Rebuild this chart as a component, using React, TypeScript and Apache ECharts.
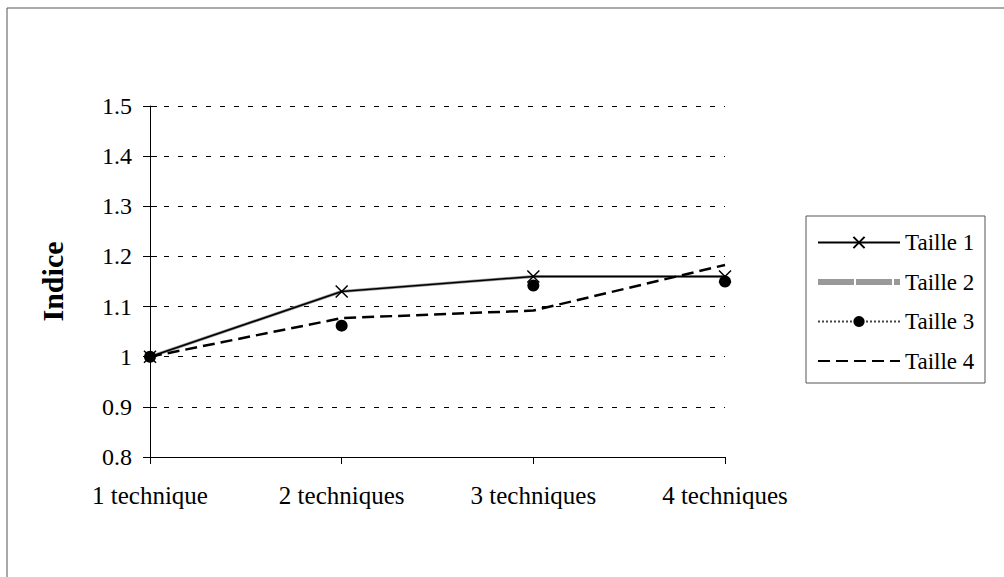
import React, { useEffect, useRef } from "react";
import * as echarts from "echarts";

const categories = ["1 technique", "2 techniques", "3 techniques", "4 techniques"];
const taille1 = [1.0, 1.13, 1.16, 1.16];
const taille2 = [1.0, 1.13, 1.16, 1.16];
const taille3 = [1.0, 1.062, 1.142, 1.15];
const taille4 = [1.0, 1.077, 1.092, 1.183];
const yTicks = { min: 0.8, max: 1.5, interval: 0.1 };

const FONT = "Liberation Serif";
const CROSS = "path://M0,0L10,10M10,0L0,10";

export default function App() {
  const ref = useRef<HTMLDivElement>(null);
  useEffect(() => {
    const chart = echarts.init(ref.current!, null, { renderer: "svg" });
    chart.setOption({
      animation: false,
      backgroundColor: "#fff",
      textStyle: { fontFamily: FONT },
      grid: { left: 150, right: 279, top: 106, bottom: 120, containLabel: false },
      graphic: [
        {
          type: "rect",
          shape: { x: 7, y: 8, width: 1200, height: 800 },
          style: { fill: "none", stroke: "#555", lineWidth: 1 },
          silent: true,
        },
        {
          type: "rect",
          shape: { x: 806, y: 216, width: 179, height: 167 },
          style: { fill: "#fff", stroke: "#555", lineWidth: 1 },
          silent: true,
          z: 0,
        },
      ],
      legend: {
        orient: "vertical",
        left: 815,
        top: 231,
        itemWidth: 82,
        itemHeight: 14,
        itemGap: 16.5,
        padding: 0,
        z: 10,
        textStyle: { fontFamily: FONT, fontSize: 23, color: "#000" },
        data: [
          { name: "Taille 1" },
          { name: "Taille 2", itemStyle: { opacity: 0 }, lineStyle: { width: 6, color: "#999", opacity: 1, type: [36, 2] } },
          { name: "Taille 3", lineStyle: { width: 2, type: "dotted", color: "#444", opacity: 1 } },
          { name: "Taille 4", itemStyle: { opacity: 0 } },
        ],
      },
      xAxis: {
        type: "category",
        data: categories,
        boundaryGap: false,
        axisLine: { lineStyle: { color: "#000", width: 1 } },
        axisTick: { show: true, length: 7, lineStyle: { color: "#000" } },
        axisLabel: { fontFamily: FONT, fontSize: 25, color: "#000", margin: 26 },
        splitLine: { show: false },
      },
      yAxis: [
        {
          type: "value",
          min: yTicks.min,
          max: yTicks.max,
          interval: yTicks.interval,
          name: "Indice",
          nameLocation: "middle",
          nameGap: 83,
          nameTextStyle: { fontFamily: FONT, fontSize: 30, fontWeight: "bold", color: "#000" },
          axisLine: { show: true, lineStyle: { color: "#000", width: 1 } },
          axisTick: { show: true, length: 7, lineStyle: { color: "#000" } },
          axisLabel: { fontFamily: FONT, fontSize: 24, color: "#000", margin: 18, formatter: (v: number) => String(Math.round(v * 10) / 10) },
          splitLine: { show: true, lineStyle: { color: "#000", type: [5, 9], width: 1 } },
        },
        {
          type: "value",
          position: "left",
          min: yTicks.min,
          max: yTicks.max,
          interval: yTicks.interval,
          axisLine: { show: false },
          axisTick: { show: true, inside: true, length: 7, lineStyle: { color: "#000" } },
          axisLabel: { show: false },
          splitLine: { show: false },
        },
      ],
      series: [
        {
          name: "Taille 2",
          type: "line",
          data: taille2,
          symbol: "none",
          lineStyle: { color: "#999", width: 3 },
          itemStyle: { color: "#999" },
          z: 2,
        },
        {
          name: "Taille 4",
          type: "line",
          data: taille4,
          symbol: "none",
          lineStyle: { color: "#000", width: 2.5, type: [12, 6] },
          itemStyle: { color: "#000" },
          z: 3,
        },
        {
          name: "Taille 1",
          type: "line",
          data: taille1,
          symbol: CROSS,
          symbolSize: 12,
          lineStyle: { color: "#000", width: 1.5 },
          itemStyle: { color: "none", borderColor: "#000", borderWidth: 1.5 },
          z: 4,
        },
        {
          name: "Taille 3",
          type: "line",
          data: taille3,
          symbol: "circle",
          symbolSize: 12,
          lineStyle: { color: "#444", width: 0, opacity: 0 },
          itemStyle: { color: "#000" },
          z: 5,
        },
      ],
    });
    return () => chart.dispose();
  }, []);
  return <div ref={ref} style={{ width: 1004, height: 577, position: "absolute", left: 0, top: 0 }} />;
}
